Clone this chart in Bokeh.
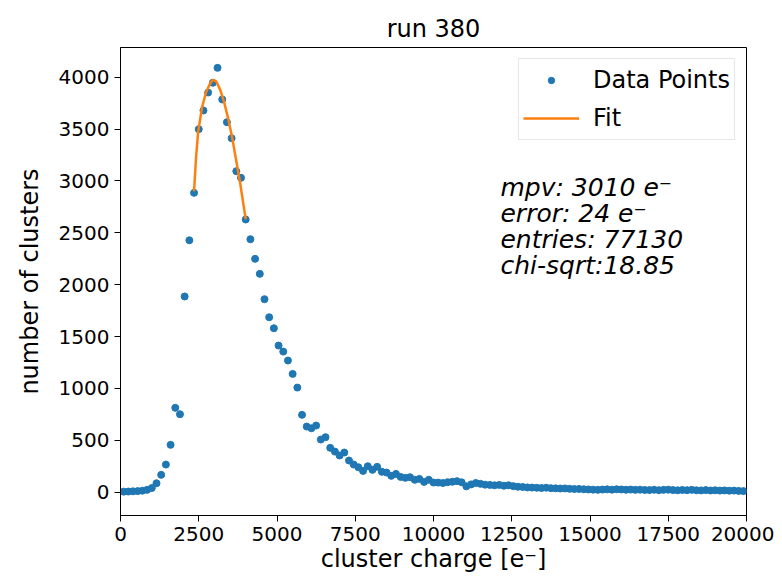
from bokeh.plotting import figure
from bokeh.models import Label, SingleIntervalTicker, Range1d
from bokeh.embed import file_html
from bokeh.resources import INLINE

# ---- data ----
bin_width = 150
bin_start = 100
counts = [
    5, 6, 8, 10, 14, 22, 40, 86, 167, 266,
    456, 813, 751, 1886, 2428, 2885, 3499, 3679, 3852, 3946,
    4090, 3785, 3566, 3412, 3094, 3030, 2628, 2438, 2249, 2104,
    1860, 1686, 1580, 1413, 1355, 1269, 1140, 1008, 745, 632,
    616, 642, 507, 530, 427, 391, 353, 382, 305, 266,
    240, 205, 250, 215, 244, 196, 189, 157, 176, 147,
    138, 144, 119, 128, 99, 119, 93, 92, 88, 96,
    100, 106, 95, 56, 75, 88, 80, 72, 70, 66,
    70, 62, 66, 58, 52, 50, 46, 44, 42, 40,
    43, 38, 37, 35, 36, 32, 30, 31, 28, 26,
    24, 22, 25, 27, 24, 28, 26, 23, 25, 22,
    24, 21, 20, 23, 19, 22, 24, 20, 18, 21,
    19, 22, 18, 17, 20, 16, 18, 15, 17, 14,
    15, 12, 10,
]
charge = [bin_start + bin_width * i for i in range(len(counts))]

fit_x = [2350, 2415, 2480, 2605, 2735, 2865, 2960, 3055, 3185, 3310,
         3440, 3570, 3695, 3825, 3940, 4000]
fit_y = [2900, 3230, 3470, 3710, 3855, 3940, 3975, 3960, 3880, 3760,
         3600, 3415, 3200, 2975, 2750, 2630]

info_lines = ["mpv: 3010 e\u207b", "error: 24 e\u207b", "entries: 77130", "chi-sqrt:18.85"]

FONT = "DejaVu Sans"
BLUE = "#1f77b4"
ORANGE = "#ff7f0e"

p = figure(
    output_backend="svg", toolbar_location=None,
    frame_width=626, frame_height=468,
    min_border_left=120, min_border_right=28, min_border_top=47, min_border_bottom=65,
    x_range=Range1d(0, 20000), y_range=Range1d(-225, 4286),
    title="run 380",
)
p.title.align = "center"
p.title.text_font = FONT
p.title.text_font_size = "24px"
p.title.text_font_style = "normal"
p.title.text_color = "black"

p.scatter(charge, counts, size=7, color=BLUE, legend_label="Data Points")
p.line(fit_x, fit_y, line_color=ORANGE, line_width=2.5, legend_label="Fit")

p.xaxis.ticker = SingleIntervalTicker(interval=2500)
p.yaxis.ticker = SingleIntervalTicker(interval=500)
p.xaxis.axis_label = "cluster charge [e\u207b]"
p.yaxis.axis_label = "number of clusters"
for ax in (p.xaxis, p.yaxis):
    ax.axis_label_text_font = FONT
    ax.axis_label_text_font_size = "24px"
    ax.axis_label_text_font_style = "normal"
    ax.axis_label_text_color = "black"
    ax.major_label_text_font = FONT
    ax.major_label_text_font_size = "20px"
    ax.major_label_text_color = "black"
    ax.axis_line_color = "black"
    ax.major_tick_line_color = "black"
    ax.major_tick_out = 6
    ax.major_tick_in = 0
    ax.minor_tick_line_color = None
p.yaxis.axis_label_standoff = 12
p.xaxis.axis_label_standoff = 1

p.xgrid.grid_line_color = None
p.ygrid.grid_line_color = None
p.outline_line_color = "black"
p.outline_line_width = 1
p.background_fill_color = "white"
p.border_fill_color = "white"

lg = p.legend[0]
lg.location = "top_right"
lg.margin = 11
lg.padding = 4
lg.spacing = 4
lg.glyph_width = 56
lg.glyph_height = 16
lg.label_height = 34
lg.label_standoff = 14
lg.label_text_font = FONT
lg.label_text_font_size = "24px"
lg.label_text_color = "black"
lg.border_line_color = "#d0d0d0"
lg.border_line_width = 1
lg.background_fill_alpha = 1.0

info_x = 12140
info_y = [2936, 2685, 2434, 2183]
for t, yy in zip(info_lines, info_y):
    p.add_layout(Label(x=info_x, y=yy, text=t, text_font=FONT, text_font_size="25px",
                       text_font_style="italic", text_color="black",
                       text_baseline="alphabetic"))

open("out.html", "w").write(file_html(p, INLINE))
